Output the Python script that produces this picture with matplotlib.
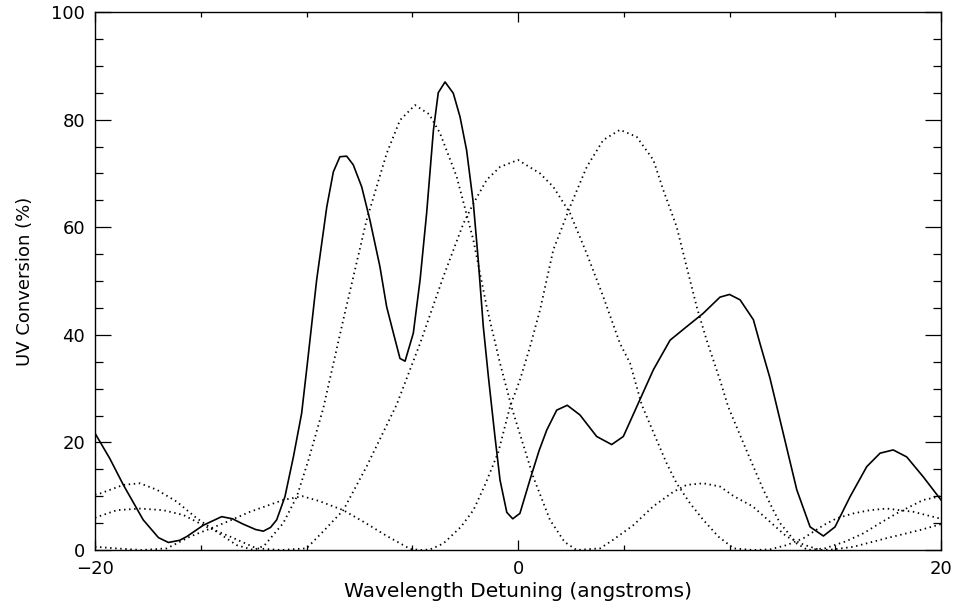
import matplotlib
matplotlib.use("Agg")
import matplotlib.pyplot as plt
from matplotlib.ticker import MultipleLocator

# total UV conversion (solid)
total_x = [-20, -19.3, -18.66, -17.72, -17.0, -16.53, -16.0, -15.66, -14.88, -14.01, -13.5,
           -12.99, -12.4, -12.04, -11.7, -11.41, -11.02, -10.62, -10.23, -9.95, -9.52, -9.04,
           -8.73, -8.42, -8.1, -7.79, -7.39, -7.0, -6.53, -6.21, -5.89, -5.58, -5.34, -4.95,
           -4.63, -4.32, -4.0, -3.77, -3.45, -3.06, -2.74, -2.43, -2.11, -1.88, -1.64, -1.40,
           -1.09, -0.85, -0.53, -0.25, 0.09, 0.6, 1.0, 1.36, 1.83, 2.33, 2.93, 3.72, 4.43,
           4.98, 5.61, 6.4, 7.19, 7.97, 8.76, 9.55, 10.0, 10.5, 11.13, 11.44, 11.91, 12.54,
           13.18, 13.81, 14.44, 14.99, 15.70, 16.49, 17.12, 17.74, 18.38, 19.16, 20]
total_y = [21.7, 17.0, 12.1, 5.6, 2.3, 1.4, 1.8, 2.5, 4.6, 6.2, 5.8,
           4.8, 3.8, 3.5, 4.2, 5.6, 9.9, 17.3, 25.4, 35.0, 50.2, 63.8,
           70.3, 73.1, 73.2, 71.6, 67.5, 61.3, 52.7, 45.2, 40.3, 35.6, 35.1, 40.3,
           50.2, 62.6, 78.0, 85.0, 87.0, 84.9, 80.5, 74.3, 64.4, 53.9, 41.5, 32.2,
           21.1, 13.0, 7.0, 5.8, 6.8, 13.5, 18.5, 22.3, 26.0, 26.9, 25.1, 21.1, 19.6,
           21.1, 26.6, 33.5, 39.0, 41.5, 44.0, 47.0, 47.5, 46.5, 42.8, 38.4, 32.0, 21.7,
           11.2, 4.3, 2.6, 4.3, 9.9, 15.5, 18.0, 18.6, 17.3, 13.6, 9.3]

# single-crystal curves (dotted), centred near -5, 0 and +5 angstroms
a_x = [-20, -19.76, -18.66, -17.87, -17.08, -16.14, -15.19, -14.25, -13.3, -12.5, -12.0,
       -11.1, -10.46, -9.91, -9.21, -8.26, -7.16, -6.21, -5.58, -4.87, -4.2, -3.69, -2.9,
       -2.11, -1.48, -0.85, -0.3, 0.72, 1.51, 2.2, 2.77, 3.88, 4.5, 5.45, 6.39, 7.34, 7.97,
       8.76, 9.55, 10.2, 11.1, 12.7, 13.5, 14.28, 14.9, 15.86, 17.43, 19.0, 20]
a_y = [10.3, 10.5, 12.1, 12.4, 11.2, 9.0, 5.9, 3.4, 0.9, 0.0, 0.8,
       5.0, 9.9, 16.7, 26.3, 42.8, 61.3, 73.7, 79.9, 82.7, 81.0, 77.5, 69.4,
       57.6, 45.2, 34.7, 26.5, 13.6, 5.6, 1.5, 0.0, 0.3, 1.9, 4.6, 8.1, 10.8, 12.1,
       12.4, 11.8, 10.0, 8.1, 2.5, 1.0, 0.0, 0.1, 0.6, 2.2, 3.7, 4.8]

b_x = [-20, -18.97, -17.87, -16.77, -15.82, -14.72, -13.62, -12.36, -11.2, -10.0, -9.2,
       -8.26, -7.16, -5.74, -4.63, -3.53, -2.58, -2.11, -1.48, -0.85, 0.0, 1.04, 1.67,
       2.46, 3.25, 4.03, 4.82, 5.3, 5.85, 6.56, 7.03, 7.5, 8.13, 8.76, 9.47, 10.2, 11.1,
       11.9, 12.7, 13.5, 14.44, 15.07, 15.86, 16.64, 17.43, 18.69, 20]
b_y = [6.0, 7.4, 7.7, 7.4, 6.5, 4.3, 2.5, 0.3, 0.0, 0.3, 3.5,
       7.4, 15.5, 27.0, 38.4, 50.8, 60.7, 64.4, 68.8, 71.2, 72.5, 70.0, 67.5,
       62.6, 55.1, 47.1, 38.4, 34.7, 27.0, 20.4, 16.1, 12.4, 8.7, 5.6, 2.5, 0.3, 0.0,
       0.1, 0.9, 2.2, 4.6, 5.9, 6.8, 7.4, 7.7, 7.1, 5.8]

c_x = [-20, -19.0, -17.8, -16.6, -15.5, -13.9, -12.67, -11.1, -10.2, -9.4, -8.26, -7.2,
       -6.2, -5.1, -4.6, -4.16, -3.53, -2.7, -2.11, -1.56, -0.93, -0.38, 0.09, 0.57, 1.04,
       1.67, 2.46, 3.25, 4.03, 4.82, 5.61, 6.4, 6.87, 7.5, 7.97, 8.45, 8.92, 9.55, 9.94,
       10.6, 11.13, 11.6, 12.07, 12.39, 13.18, 13.7, 14.5, 15.5, 16.33, 17.12, 17.9,
       19.16, 20]
c_y = [0.6, 0.3, 0.0, 0.3, 2.5, 5.0, 7.1, 9.3, 10.0, 9.1, 7.4, 5.0,
       2.6, 0.2, 0.0, 0.1, 1.2, 4.3, 7.4, 12.1, 18.2, 26.6, 31.6, 37.8, 44.6,
       55.8, 63.8, 71.2, 76.2, 78.1, 76.8, 72.5, 66.9, 60.1, 52.7, 45.2, 39.0, 31.6, 26.6,
       20.4, 15.5, 11.2, 7.4, 5.0, 1.2, 0.0, 0.3, 1.6, 3.1, 5.0, 6.8,
       9.3, 10.0]

fig = plt.figure(figsize=(9.57, 6.05), dpi=100)
ax = fig.add_axes([95/957, 55/605, 846/957, 538/605])

dots = (0, (0.8, 2.0))
for xs, ys in [(a_x, a_y), (b_x, b_y), (c_x, c_y)]:
    ax.plot(xs, ys, color='black', lw=1.3, linestyle=dots)
ax.plot(total_x, total_y, color='black', lw=1.2)

ax.set_xlim(-20, 20)
ax.set_ylim(0, 100)
ax.xaxis.set_major_locator(MultipleLocator(20))
ax.xaxis.set_minor_locator(MultipleLocator(5))
ax.yaxis.set_major_locator(MultipleLocator(20))
ax.yaxis.set_minor_locator(MultipleLocator(5))
ax.tick_params(axis='both', which='both', direction='in', top=True, right=True,
               labelsize=13, width=0.9, colors='black')
ax.tick_params(axis='x', which='major', length=7.2, pad=7)
ax.tick_params(axis='x', which='minor', length=3.6)
ax.tick_params(axis='y', which='major', length=11.5, pad=7)
ax.tick_params(axis='y', which='minor', length=5.8)
for s in ax.spines.values():
    s.set_linewidth(1.0)

ax.set_xlabel('Wavelength Detuning (angstroms)', fontsize=14.5, va='center')
ax.xaxis.set_label_coords(0.5, -0.077)
ax.set_ylabel('UV Conversion (%)', fontsize=13, va='center')
ax.yaxis.set_label_coords(-0.083, 0.5)

fig.savefig('out.png', dpi=100)
